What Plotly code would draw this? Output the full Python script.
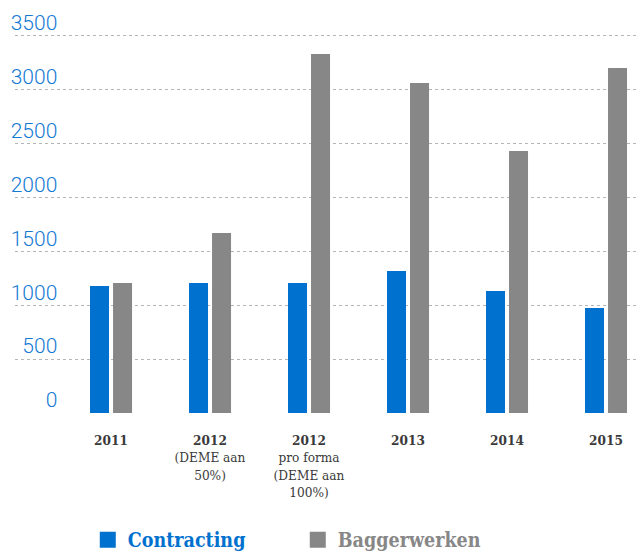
import plotly.graph_objects as go

categories = [
    "<b>2011</b>",
    "<b>2012</b><br>(DEME aan<br>50%)",
    "<b>2012</b><br>pro forma<br>(DEME aan<br>100%)",
    "<b>2013</b>",
    "<b>2014</b>",
    "<b>2015</b>",
]
contracting = [1178, 1206, 1206, 1317, 1132, 974]
baggerwerken = [1206, 1670, 3330, 3061, 2430, 3200]
y_ticks = [0, 500, 1000, 1500, 2000, 2500, 3000, 3500]
y_tick_labels = [str(v) for v in y_ticks]

BLUE = "#0071ce"
GREY = "#878787"
LABEL_BLUE = "#1479d3"

fig = go.Figure()
fig.add_trace(go.Bar(x=categories, y=contracting, name="Contracting",
                     marker=dict(color=BLUE, line=dict(width=0)), showlegend=False))
fig.add_trace(go.Bar(x=categories, y=baggerwerken, name="Baggerwerken",
                     marker=dict(color=GREY, line=dict(width=0)), showlegend=False))
# legend entries (no data) on the overlay axis
fig.add_trace(go.Scatter(x=[None], y=[None], yaxis="y2", mode="markers",
                         name="<span style='color:%s'><b>Contracting</b></span>" % BLUE,
                         marker=dict(symbol="square", size=16, color=BLUE)))
fig.add_trace(go.Scatter(x=[None], y=[None], yaxis="y2", mode="markers",
                         name="<span style='color:%s'><b>Baggerwerken</b></span>" % GREY,
                         marker=dict(symbol="square", size=16, color=GREY)))

YMAX = 3785
fig.update_layout(
    width=637, height=555,
    margin=dict(l=15, r=0, t=5, b=142),
    paper_bgcolor="white", plot_bgcolor="white",
    barmode="group", bargap=0.535, bargroupgap=0.174,
    hovermode=False,
    xaxis=dict(
        type="category", range=[-0.970, 5.313],
        showgrid=False, zeroline=False, showline=False, ticks="",
        tickfont=dict(family="DejaVu Serif Condensed, DejaVu Serif", size=13.5, color="#3a3a3a"),
        ticklabelstandoff=17, automargin=False,
    ),
    yaxis=dict(
        range=[0, YMAX], tickvals=y_ticks, showticklabels=False,
        showgrid=True, gridcolor="#b5b5b5", griddash="dot", gridwidth=1,
        zeroline=False, showline=False, ticks="", automargin=False,
    ),
    yaxis2=dict(
        overlaying="y", anchor="free", side="left", position=0.068,
        range=[0, YMAX], tickvals=y_ticks, ticktext=y_tick_labels,
        showgrid=False, zeroline=False, showline=False, ticks="",
        tickfont=dict(family="Roboto", size=21, color=LABEL_BLUE, weight=300),
        ticklabelshift=-13, automargin=False,
    ),
    legend=dict(
        orientation="h", x=0.117, xanchor="left",
        yref="container", y=0.027, yanchor="middle",
        font=dict(family="DejaVu Serif Condensed, DejaVu Serif", size=19.5),
        itemsizing="trace", entrywidth=165, bgcolor="rgba(0,0,0,0)",
    ),
)

fig.write_html("out.html")
